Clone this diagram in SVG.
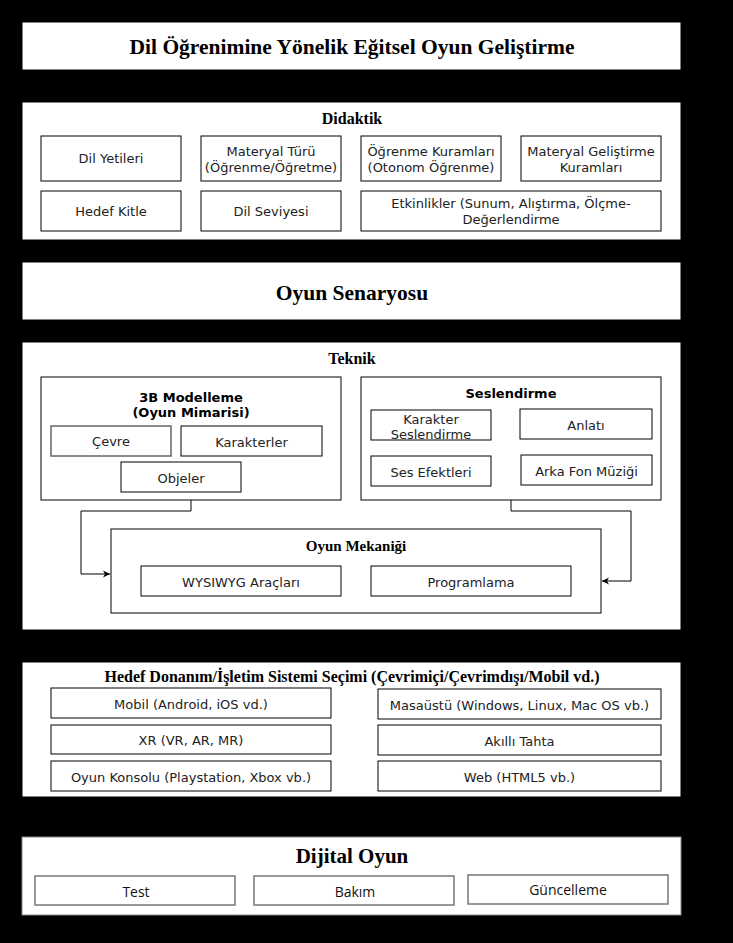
<svg xmlns="http://www.w3.org/2000/svg" width="733" height="943" viewBox="0 0 733 943">
<defs>
<style>
.panel{fill:#fff;stroke:#000;stroke-width:1}
.box{fill:#fff;stroke:#000;stroke-width:1}
.gbox{fill:#fff;stroke:#777;stroke-width:1.5}
.t{font-family:"DejaVu Sans",Verdana,sans-serif;font-size:13px;fill:#222;text-anchor:middle;dominant-baseline:central}
.tb{font-family:"DejaVu Sans",Verdana,sans-serif;font-size:13px;font-weight:bold;fill:#000;text-anchor:middle;dominant-baseline:central}
.h{font-family:"Liberation Serif","Times New Roman",serif;font-weight:bold;fill:#000;text-anchor:middle;dominant-baseline:central}
.s{font-family:"Open Sans","Noto Sans",sans-serif;font-size:14px;fill:#111;text-anchor:middle;dominant-baseline:central}
.c{fill:none;stroke:#000;stroke-width:1}
</style>
<marker id="arr" markerWidth="8" markerHeight="8" refX="7" refY="4" orient="auto" markerUnits="userSpaceOnUse">
<path d="M0,0.5 L7,4 L0,7.5 L2,4 Z" fill="#000"/>
</marker>
</defs>
<rect x="0" y="0" width="733" height="943" fill="#000"/>

<g id="title">
<rect class="panel" x="22" y="22" width="659" height="48"/>
<text class="h" x="352" y="47" font-size="21.5">Dil Öğrenimine Yönelik Eğitsel Oyun Geliştirme</text>
</g>

<g id="didaktik">
<rect class="panel" x="22" y="102" width="659" height="138"/>
<text class="h" x="352" y="118" font-size="16">Didaktik</text>
</g>
<g id="dil-yetileri"><rect class="box" x="41" y="136" width="140" height="45"/><text class="t" x="111" y="158.5">Dil Yetileri</text></g>
<g id="materyal-turu"><rect class="box" x="201" y="136" width="140" height="45"/><text class="t" x="271" y="151">Materyal Türü</text><text class="t" x="271" y="167">(Öğrenme/Öğretme)</text></g>
<g id="ogrenme-kuramlari"><rect class="box" x="361" y="136" width="140" height="45"/><text class="t" x="431" y="151">Öğrenme Kuramları</text><text class="t" x="431" y="167">(Otonom Öğrenme)</text></g>
<g id="materyal-gelistirme"><rect class="box" x="521" y="136" width="140" height="45"/><text class="t" x="591" y="151">Materyal Geliştirme</text><text class="t" x="591" y="167">Kuramları</text></g>
<g id="hedef-kitle"><rect class="box" x="41" y="191" width="140" height="40"/><text class="t" x="111" y="211.5">Hedef Kitle</text></g>
<g id="dil-seviyesi"><rect class="box" x="201" y="191" width="140" height="40"/><text class="t" x="271" y="211.5">Dil Seviyesi</text></g>
<g id="etkinlikler"><rect class="box" x="361" y="191" width="300" height="40"/><text class="t" x="511" y="203.5">Etkinlikler (Sunum, Alıştırma, Ölçme-</text><text class="t" x="511" y="219">Değerlendirme</text></g>

<g id="oyun-senaryosu">
<rect class="panel" x="22" y="262" width="659" height="58"/>
<text class="h" x="352" y="293" font-size="21.5">Oyun Senaryosu</text>
</g>

<g id="teknik">
<rect class="panel" x="22" y="342" width="659" height="288"/>
<text class="h" x="352" y="358" font-size="16">Teknik</text>
</g>
<g id="modelleme">
<rect class="box" x="41" y="377" width="300" height="123"/>
<text class="tb" x="191" y="397">3B Modelleme</text>
<text class="tb" x="191" y="412">(Oyun Mimarisi)</text>
</g>
<g id="cevre"><rect x="51" y="426" width="120" height="30" fill="#fff" stroke="#666" stroke-width="1.5"/><text class="t" x="111" y="441">Çevre</text></g>
<g id="karakterler"><rect class="box" x="181" y="426" width="141" height="30"/><text class="t" x="251.5" y="442">Karakterler</text></g>
<g id="objeler"><rect class="box" x="121" y="462" width="120" height="30"/><text class="t" x="181" y="478">Objeler</text></g>

<g id="seslendirme">
<rect class="box" x="361" y="377" width="300" height="123"/>
<text class="tb" x="511" y="393">Seslendirme</text>
</g>
<g id="karakter-seslendirme"><rect class="box" x="371" y="410" width="120" height="30"/><text class="t" x="431" y="419">Karakter</text><text class="t" x="431" y="434">Seslendirme</text></g>
<g id="anlati"><rect class="box" x="520" y="409" width="132" height="30"/><text class="t" x="586" y="425">Anlatı</text></g>
<g id="ses-efektleri"><rect class="box" x="371" y="456" width="120" height="30"/><text class="t" x="431" y="472">Ses Efektleri</text></g>
<g id="arka-fon"><rect class="box" x="521" y="455" width="131" height="30"/><text class="t" x="586.5" y="471">Arka Fon Müziği</text></g>

<g id="oyun-mekanigi">
<rect class="box" x="111" y="529" width="490" height="84"/>
<text class="h" x="356" y="546" font-size="15">Oyun Mekaniği</text>
</g>
<g id="wysiwyg"><rect class="box" x="141" y="566" width="200" height="30"/><text class="t" x="241" y="582">WYSIWYG Araçları</text></g>
<g id="programlama"><rect class="box" x="371" y="566" width="200" height="30"/><text class="t" x="471" y="582">Programlama</text></g>

<g id="connectors">
<path class="c" d="M191,500 V511 H81 V574 H110" marker-end="url(#arr)"/>
<path class="c" d="M511,500 V511 H631 V581 H602" marker-end="url(#arr)"/>
</g>

<g id="hedef-donanim">
<rect class="panel" x="22" y="662" width="659" height="135"/>
<text class="h" x="352" y="676" font-size="16">Hedef Donanım/İşletim Sistemi Seçimi (Çevrimiçi/Çevrimdışı/Mobil vd.)</text>
</g>
<g id="mobil"><rect class="box" x="51" y="688" width="280" height="30"/><text class="t" x="191" y="704">Mobil (Android, iOS vd.)</text></g>
<g id="xr"><rect class="box" x="51" y="725" width="280" height="29"/><text class="t" x="191" y="740" font-size="12">XR (VR, AR, MR)</text></g>
<g id="oyun-konsolu"><rect class="box" x="51" y="761" width="280" height="30"/><text class="t" x="191" y="777">Oyun Konsolu (Playstation, Xbox vb.)</text></g>
<g id="masaustu"><rect class="box" x="378" y="689" width="283" height="30"/><text class="t" x="519.5" y="705">Masaüstü (Windows, Linux, Mac OS vb.)</text></g>
<g id="akilli-tahta"><rect class="box" x="378" y="725" width="283" height="30"/><text class="t" x="519.5" y="741">Akıllı Tahta</text></g>
<g id="web"><rect class="box" x="378" y="761" width="283" height="30"/><text class="t" x="519.5" y="777">Web (HTML5 vb.)</text></g>

<g id="dijital-oyun">
<rect x="22" y="837" width="659" height="78" fill="#fff" stroke="#888" stroke-width="1"/>
<text class="h" x="352" y="856" font-size="21">Dijital Oyun</text>
</g>
<g id="test"><rect class="gbox" x="35" y="876" width="200" height="29"/><text class="s" x="136" y="891">Test</text></g>
<g id="bakim"><rect class="gbox" x="254" y="876" width="200" height="29"/><text class="s" x="355" y="891">Bakım</text></g>
<g id="guncelleme"><rect class="gbox" x="468" y="875" width="200" height="29"/><text class="s" x="568" y="889">Güncelleme</text></g>
</svg>
